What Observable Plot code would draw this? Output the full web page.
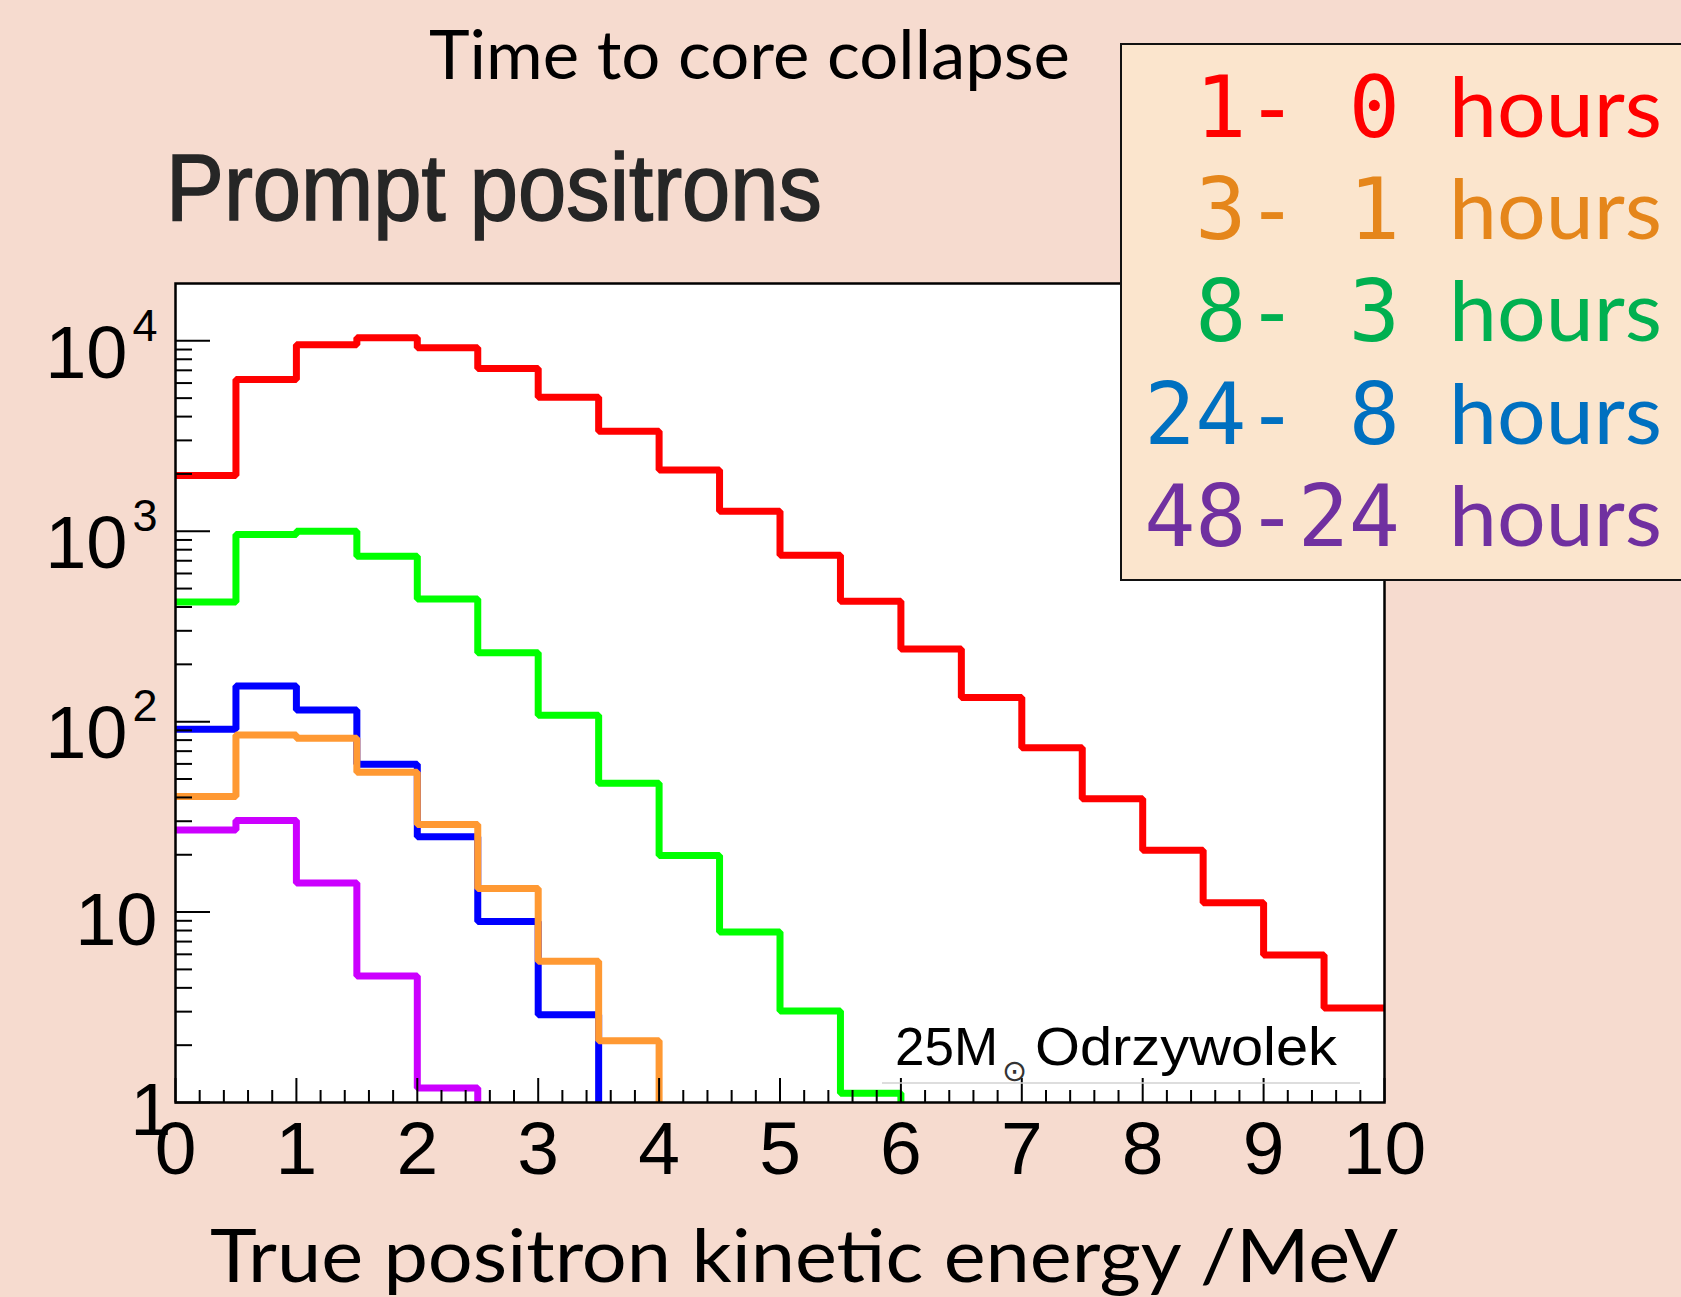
<!DOCTYPE html>
<html><head><meta charset="utf-8">
<script src="https://cdn.jsdelivr.net/npm/d3@7"></script>
<script src="https://cdn.jsdelivr.net/npm/@observablehq/plot@0.6"></script>
<style>
html,body{margin:0;padding:0;background:#f6dbcf;}
#wrap{position:relative;width:1681px;height:1297px;overflow:hidden;background:#f6dbcf;}
#overlay{position:absolute;left:0;top:0;}
</style></head><body><div id="wrap"></div>
<script>
// ---- data ----
const binWidth = 0.5;
const xDomain = [0, 10];
const yDomain = [1, 20000];
const hoursFrom = [1, 3, 8, 24, 48];
const hoursTo = [0, 1, 3, 8, 24];
const red = [1960, 6270, 9530, 10370, 9190, 7160, 5050, 3350, 2100, 1273, 747, 429, 241, 134, 73, 39.4, 21.1, 11.2, 5.95, 3.14];
const orange = [40.4, 85.2, 81.8, 54.3, 28.8, 13.3, 5.51, 2.11];
const green = [425, 960, 1000, 738, 441, 230, 108, 47.5, 19.8, 7.87, 3.02, 1.12];
const blue = [91.2, 154, 115, 59.7, 24.9, 8.93, 2.89];
const purple = [27.0, 30.3, 14.2, 4.61, 1.19];
const xTickLabels = [0, 1, 2, 3, 4, 5, 6, 7, 8, 9, 10];
const yTickValues = [1, 10, 100, 1000, 10000];
const lineColors = {red: "#ff0000", orange: "#ff9933", green: "#00ff00", blue: "#0000ff", purple: "#cc00ff"};
const legendColors = ["#ff0000", "#e5861b", "#00b050", "#0070c0", "#7030a0"];

// ---- build ----
const W = 1681, H = 1297;
const mL = 175, mR = 297, mT = 283, mB = 195;
const frameW = W - mL - mR, frameH = H - mT - mB;

function steps(vals, name) {
  const pts = vals.map((v, i) => ({x: i * binWidth, y: v, s: name}));
  const end = vals.length * binWidth;
  pts.push({x: end, y: vals[vals.length - 1], s: name});
  if (end < xDomain[1]) pts.push({x: end, y: yDomain[0], s: name});
  return pts;
}
const yMinor = [];
for (let d = 0; d < 4; d++) for (let m = 2; m <= 9; m++) yMinor.push(m * Math.pow(10, d));
const xMinor = d3.range(0, 50).map(i => i * 0.2).filter(v => Math.abs(v - Math.round(v)) > 1e-6);

const lineOpts = (c) => ({x: "x", y: "y", stroke: c, strokeWidth: 7, curve: "step-after", strokeLinejoin: "miter", strokeLinecap: "butt", clip: true});

const svg = Plot.plot({
  width: W, height: H,
  marginLeft: mL, marginRight: mR, marginTop: mT, marginBottom: mB,
  x: {domain: xDomain},
  y: {type: "log", domain: yDomain},
  style: {background: "transparent", fontFamily: "'Liberation Sans', Arial, sans-serif", color: "black", overflow: "visible"},
  marks: [
    Plot.frame({fill: "white", stroke: null}),
    Plot.line(steps(red, "red"), lineOpts(lineColors.red)),
    Plot.line(steps(green, "green"), lineOpts(lineColors.green)),
    Plot.line(steps(blue, "blue"), lineOpts(lineColors.blue)),
    Plot.line(steps(orange, "orange"), lineOpts(lineColors.orange)),
    Plot.line(steps(purple, "purple"), lineOpts(lineColors.purple)),
    Plot.tickY(yTickValues, {y: d => d, insetRight: frameW - 35, stroke: "black", strokeWidth: 2}),
    Plot.tickY(yMinor, {y: d => d, insetRight: frameW - 17, stroke: "black", strokeWidth: 2}),
    Plot.tickX(xTickLabels, {x: d => d, insetTop: frameH - 24, stroke: "black", strokeWidth: 2}),
    Plot.tickX(xMinor, {x: d => d, insetTop: frameH - 12, stroke: "black", strokeWidth: 2}),
    Plot.frame({stroke: "black", strokeWidth: 2.5}),
    Plot.axisX({ticks: xTickLabels, tickSize: 0, tickPadding: 18, fontSize: 75, label: null, tickFormat: d => String(d)}),
    Plot.axisY({ticks: yTickValues, tickSize: 0, tickPadding: 18, fontSize: 74, label: null, dy: 9,
      tickFormat: d => d >= 100 ? "10^" + Math.round(Math.log10(d)) : String(d)})
  ]
});
document.getElementById("wrap").appendChild(svg);

// superscript exponents on y labels
d3.select(svg).selectAll('g[aria-label="y-axis tick label"] text').each(function () {
  const t = this.textContent;
  const target = this.querySelector("tspan") || this;
  if (t.includes("^")) {
    const [b, e] = t.split("^");
    target.textContent = b;
    d3.select(this).attr("dy", 4);
    d3.select(this).append("tspan")
      .attr("font-size", 45).attr("dx", 5).attr("dy", -37).text(e);
  } else if (t === "1") {
    d3.select(this).attr("dx", 14);
  }
});

// ---- overlay: titles, legend, annotation ----
const ov = d3.select("#wrap").append("svg").attr("id", "overlay").attr("width", W).attr("height", H);

ov.append("text").attr("x", 429).attr("y", 79)
  .attr("font-family", "Lato, 'Open Sans', sans-serif").attr("font-size", 68).attr("fill", "#000")
  .attr("textLength", 641).attr("lengthAdjust", "spacingAndGlyphs").text("Time to core collapse");

ov.append("text").attr("x", 166).attr("y", 220)
  .attr("font-family", "'Liberation Sans', Arial, sans-serif").attr("font-size", 95).attr("fill", "#262626")
  .attr("stroke", "#262626").attr("stroke-width", 1.6)
  .attr("textLength", 656).attr("lengthAdjust", "spacingAndGlyphs").text("Prompt positrons");

ov.append("text").attr("x", 210).attr("y", 1282)
  .attr("font-family", "Lato, 'Open Sans', sans-serif").attr("font-size", 73).attr("fill", "#000")
  .attr("textLength", 1188).attr("lengthAdjust", "spacingAndGlyphs").text("True positron kinetic energy /MeV");

// annotation
ov.append("line").attr("x1", 882).attr("x2", 1360).attr("y1", 1083).attr("y2", 1083)
  .attr("stroke", "#d2d2d2").attr("stroke-width", 1.5);
ov.append("text").attr("x", 895).attr("y", 1065)
  .attr("font-family", "'Liberation Sans', Arial, sans-serif").attr("font-size", 53).attr("fill", "#000").text("25M");
ov.append("text").attr("x", 1002).attr("y", 1081)
  .attr("font-family", "'DejaVu Sans', sans-serif").attr("font-size", 30).attr("fill", "#333").text("\u2299");
ov.append("text").attr("x", 1035).attr("y", 1065)
  .attr("font-family", "'Liberation Sans', Arial, sans-serif").attr("font-size", 53).attr("fill", "#000")
  .attr("textLength", 302).attr("lengthAdjust", "spacingAndGlyphs").text("Odrzywolek");

// legend
const lg = ov.append("g");
lg.append("rect").attr("x", 1121).attr("y", 44).attr("width", 620).attr("height", 536)
  .attr("fill", "#fbe5cd").attr("stroke", "#111").attr("stroke-width", 2);
hoursFrom.forEach((h, i) => {
  const yb = 136.5 + i * 102.4;
  lg.append("text").attr("x", 1400).attr("y", yb).attr("text-anchor", "end")
    .attr("font-family", "'DejaVu Sans Mono', monospace").attr("font-size", 85).attr("fill", legendColors[i])
    .text(`${h}-${String(hoursTo[i]).padStart(2, "\u00a0")}`);
  lg.append("text").attr("x", 1449).attr("y", yb)
    .attr("font-family", "Lato, 'Open Sans', sans-serif").attr("font-size", 83).attr("fill", legendColors[i])
    .attr("textLength", 213).attr("lengthAdjust", "spacingAndGlyphs").text("hours");
});
</script></body></html>
